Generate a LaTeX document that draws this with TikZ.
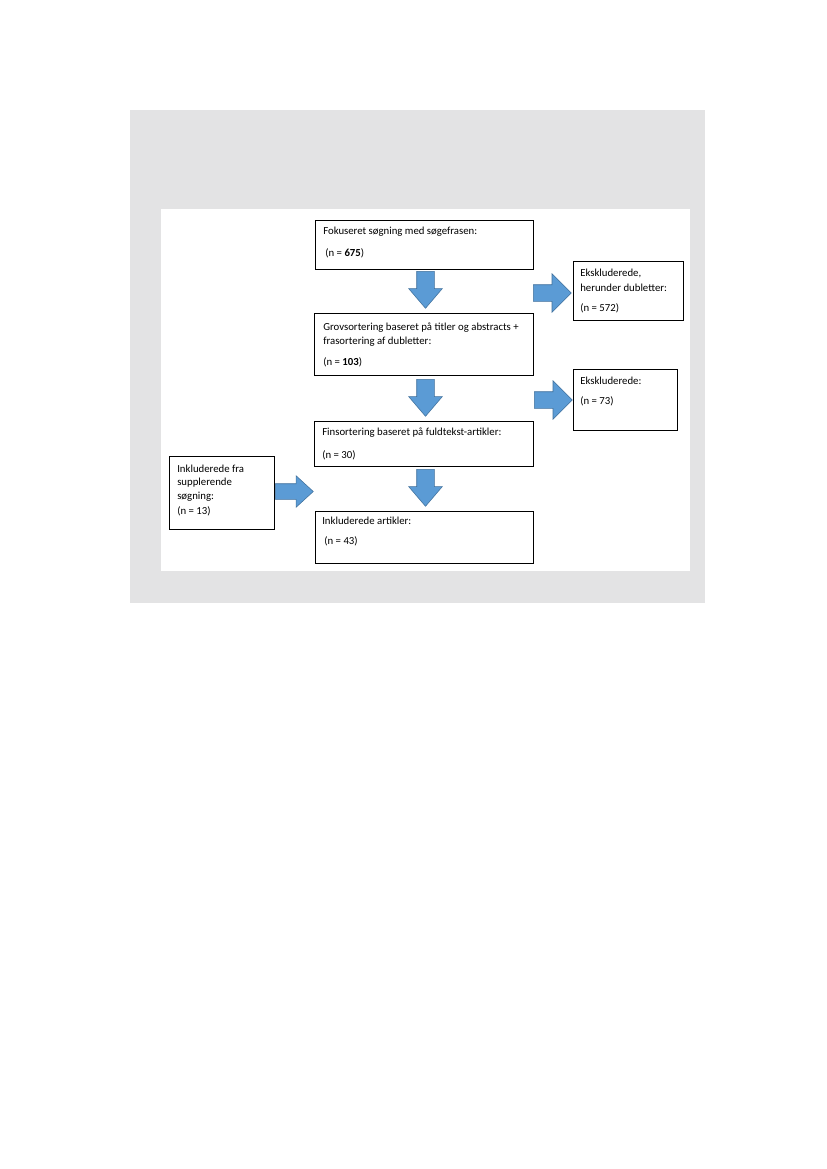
\documentclass[tikz,border=0pt]{standalone}
\usepackage{fontspec}
\setmainfont{Carlito}
\usetikzlibrary{shapes.arrows,calc}
\newlength\px
\setlength\px{0.7198pt}
\definecolor{pilblaa}{RGB}{91,155,213}
\definecolor{pilkant}{RGB}{65,113,156}
\definecolor{baggrund}{RGB}{227,227,228}
\tikzset{
  boks/.style={draw=black, line width=0.6pt, anchor=north west, inner sep=0pt, fill=white},
  % anker paa sidste linjes grundlinje
  tekst/.style={anchor=base west, inner sep=0pt, align=left, font=\fontsize{7.75}{10.44}\selectfont},
  pil/.style={single arrow, draw=pilkant, fill=pilblaa, line width=0.4pt, anchor=tail},
  pilned/.style={pil, shape border rotate=270, inner sep=8.5*\px, minimum height=37*\px,
    single arrow head extend=8*\px, single arrow tip angle=81},
  pilhojre/.style={pil, inner sep=8*\px, minimum height=38*\px,
    single arrow head extend=11*\px, single arrow tip angle=90}
}
\begin{document}
\begin{tikzpicture}[x=\px, y=-\px]
\useasboundingbox (0,0) rectangle (827,1169);
% baggrund
\fill[baggrund] (130,110) rectangle (705,603);
\fill[white] (161,209) rectangle (690,571);

% kasser
\node[boks, minimum width=218*\px, minimum height=49*\px] (fokus) at (315,220) {};
\node[boks, minimum width=110*\px, minimum height=59*\px] (ekskl1) at (573,261) {};
\node[boks, minimum width=219*\px, minimum height=62*\px] (grov) at (314,313) {};
\node[boks, minimum width=104*\px, minimum height=61*\px] (ekskl2) at (573,369) {};
\node[boks, minimum width=219*\px, minimum height=45*\px] (fin) at (314,421) {};
\node[boks, minimum width=105*\px, minimum height=73*\px] (suppl) at (169,456) {};
\node[boks, minimum width=218*\px, minimum height=52*\px] (inkl) at (315,511) {};

% tekster
\node[tekst] (fokustekst) at (323,256.5) {Fokuseret søgning med søgefrasen:\\[5.4pt]\hspace*{1.5pt}(n = \textbf{675})};
\node[tekst] (ekskl1tekst) at (580,311.5) {Ekskluderede,\\herunder dubletter:\\[4pt](n = 572)};
\node[tekst] (grovtekst) at (323,365) {Grovsortering baseret på titler og abstracts +\\frasortering af dubletter:\\[4pt](n = \textbf{103})};
\node[tekst] (ekskl2tekst) at (580,404.5) {Ekskluderede:\\[4pt](n = 73)};
\node[tekst] (fintekst) at (322,458.5) {Finsortering baseret på fuldtekst-artikler:\\[6.2pt](n = 30)};
\node[tekst] (suppltekst) at (177,514) {Inkluderede fra\\[-0.6pt]supplerende\\[-0.6pt]søgning:\\(n = 13)};
\node[tekst] (inkltekst) at (322,544.5) {Inkluderede artikler:\\[4pt]\hspace*{1.5pt}(n = 43)};

% pile
\node[pilned] (ned1) at (425.5,271) {};
\node[pilned] (ned2) at (425.5,379) {};
\node[pilned] (ned3) at (425.5,469) {};
\node[pilhojre] (hojre1) at (533,293) {};
\node[pilhojre] (hojre2) at (534,400) {};
\node[pilhojre, inner sep=7.5*\px, single arrow head extend=8*\px, single arrow tip angle=85] (hojre3) at (275,491.5) {};
\end{tikzpicture}
\end{document}
